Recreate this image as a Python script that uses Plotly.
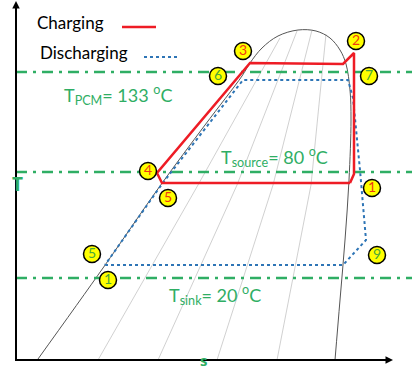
import plotly.graph_objects as go

# Saturation dome (entropy s, temperature T) in diagram units
dome_s = [38, 103, 160, 205, 242, 250, 262, 278, 298, 316, 330, 340, 346, 350, 351, 349, 345, 340, 335]
dome_T = [12, 103, 185, 246, 295, 308, 323, 335, 341, 340, 333, 321, 307, 281, 251, 191, 131, 71, 11]

# Constant-quality lines inside the dome
iso_s = [[98, 198, 280], [158, 237, 297], [217, 273, 312], [277, 311, 326]]
iso_T = [[11, 186, 333], [11, 186, 340], [11, 186, 341], [11, 186, 337]]

# Charging cycle (heat pump) 1-2-3-4-5-1
charge_s = [350, 354, 354, 343, 250, 157, 162, 350]
charge_T = [188, 197, 318, 307, 308, 198, 188, 188]

# Discharging cycle (ORC) 1-9-7-6-5
discharge_s = [105, 343, 366, 360, 353, 348, 243, 162, 105]
discharge_T = [106, 106, 131, 201, 273, 291, 291, 187, 106]

# Reference temperature levels
levels_T = [299, 199, 93]
level_labels = ["T<sub>PCM</sub>= 133 <sup>o</sup>C",
                "T<sub>source</sub>= 80 <sup>o</sup>C",
                "T<sub>sink</sub>= 20 <sup>o</sup>C"]
level_label_s = [62, 219, 167]
level_label_T = [276, 214, 76]

# State point markers
charge_pts = ["1", "2", "3", "4", "5"]
charge_pts_s = [372, 356, 243, 148, 168]
charge_pts_T = [183, 330, 320, 200, 173]
discharge_pts = ["6", "7", "5", "1", "9"]
discharge_pts_s = [218, 369, 92, 108, 377]
discharge_pts_T = [295, 295, 117, 91, 116]

GREEN = "#2fae64"
RED = "#ee1c25"
BLUE = "#2e75b6"
FONT = "Lato"

fig = go.Figure()

# quality lines
for xs, ys in zip(iso_s, iso_T):
    fig.add_trace(go.Scatter(x=xs, y=ys, mode="lines",
                             line=dict(color="#c4c4c4", width=0.8), hoverinfo="skip"))

# dome
fig.add_trace(go.Scatter(x=dome_s, y=dome_T, mode="lines", line_shape="spline",
                         line=dict(color="#555555", width=1), hoverinfo="skip"))

# temperature levels
for t in levels_T:
    fig.add_trace(go.Scatter(x=[16, 412], y=[t, t], mode="lines",
                             line=dict(color=GREEN, width=2.5, dash="11px,6px,3px,6px"),
                             hoverinfo="skip"))

# cycles
fig.add_trace(go.Scatter(x=discharge_s, y=discharge_T, mode="lines",
                         line=dict(color=BLUE, width=2, dash="dot"), hoverinfo="skip"))
fig.add_trace(go.Scatter(x=charge_s, y=charge_T, mode="lines",
                         line=dict(color=RED, width=2.5), hoverinfo="skip"))

# legend samples
fig.add_trace(go.Scatter(x=[122, 156], y=[344, 344], mode="lines",
                         line=dict(color=RED, width=2.5), hoverinfo="skip"))
fig.add_trace(go.Scatter(x=[144, 178], y=[314, 314], mode="lines",
                         line=dict(color=BLUE, width=2, dash="dot"), hoverinfo="skip"))

# axes
fig.add_trace(go.Scatter(x=[16, 16, 391], y=[368, 11, 11], mode="lines",
                         line=dict(color="black", width=2), hoverinfo="skip"))

# state points
fig.add_trace(go.Scatter(x=charge_pts_s, y=charge_pts_T, mode="markers+text",
                         text=charge_pts, textposition="middle center",
                         textfont=dict(family=FONT, size=14, color="#f03a12"),
                         marker=dict(size=17, color="#ffff00",
                                     line=dict(color="black", width=1.5)),
                         hoverinfo="skip"))
fig.add_trace(go.Scatter(x=discharge_pts_s, y=discharge_pts_T, mode="markers+text",
                         text=discharge_pts, textposition="middle center",
                         textfont=dict(family=FONT, size=14, color="#4aa83a"),
                         marker=dict(size=17, color="#ffff00",
                                     line=dict(color="black", width=1.5)),
                         hoverinfo="skip"))

annotations = [
    dict(x=35, y=349, text="Charging", xanchor="left", yanchor="middle",
         font=dict(family=FONT, size=17, color="black")),
    dict(x=38, y=319, text="Discharging", xanchor="left", yanchor="middle",
         font=dict(family=FONT, size=17, color="black")),
    dict(x=17, y=187, text="<b>T</b>", xanchor="center", yanchor="middle",
         font=dict(family="Open Sans", size=19, color=GREEN)),
    dict(x=203, y=0, text="<b>s</b>", xanchor="center", yanchor="bottom", borderpad=0,
         font=dict(family="Open Sans", size=15, color=GREEN)),
    # axis arrowheads
    dict(x=16, y=370, ax=16, ay=355, axref="x", ayref="y", text="",
         showarrow=True, arrowhead=2, arrowsize=1, arrowwidth=1.5, arrowcolor="black"),
    dict(x=393, y=11, ax=378, ay=11, axref="x", ayref="y", text="",
         showarrow=True, arrowhead=2, arrowsize=1, arrowwidth=1.5, arrowcolor="black"),
]
for lbl, xs, ys in zip(level_labels, level_label_s, level_label_T):
    annotations.append(dict(x=xs, y=ys, text=lbl, xanchor="left", yanchor="middle",
                            font=dict(family=FONT, size=18, color=GREEN)))
for a in annotations:
    a.setdefault("showarrow", False)

fig.update_layout(
    width=412, height=371,
    margin=dict(l=0, r=0, t=0, b=0),
    paper_bgcolor="white", plot_bgcolor="white",
    showlegend=False,
    xaxis=dict(range=[0, 412], visible=False, fixedrange=True),
    yaxis=dict(range=[0, 371], visible=False, fixedrange=True),
    annotations=annotations,
)

fig.write_html("out.html")
